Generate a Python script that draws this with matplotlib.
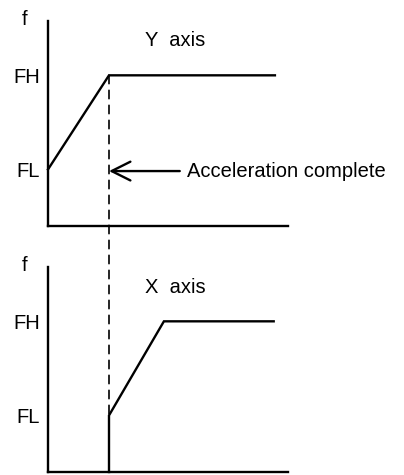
import matplotlib
matplotlib.use('Agg')
import matplotlib.pyplot as plt
from matplotlib.patches import ConnectionPatch

plt.rcParams['font.family'] = ['Liberation Sans', 'DejaVu Sans']

# frequency levels (fraction of axis height)
FL = 0.276
FH = 0.735
T_ACCEL = 1.0

# Y axis: starts at FL, ramps to FH, then constant
y_axis_t = [0.0, T_ACCEL, 3.72]
y_axis_f = [FL, FH, FH]

# X axis: starts after Y acceleration is complete
x_axis_t = [T_ACCEL, T_ACCEL, 1.90, 3.70]
x_axis_f = [0.0, FL, FH, FH]

level_ticks = [FL, FH]
level_labels = ['FL', 'FH']
panel_titles = ['Y  axis', 'X  axis']
note_text = 'Acceleration complete'
ARROW_Y = 0.268
ARROW_TAIL = 2.16
TEXT_X = 2.28
FS = 14.5

W, H = 404, 475
fig = plt.figure(figsize=(W / 100, H / 100), dpi=100)


def make_axes(top_px):
    left, right, bottom_px = 48, 288, top_px + 205
    ax = fig.add_axes([left / W, (H - bottom_px) / H, (right - left) / W, 205 / H])
    ax.set_xlim(0, 240 / 61)
    ax.set_ylim(0, 1)
    for side in ['top', 'right']:
        ax.spines[side].set_visible(False)
    for side in ['left', 'bottom']:
        ax.spines[side].set_linewidth(1.7)
        ax.spines[side].set_capstyle('projecting')
    ax.set_xticks([])
    ax.set_yticks(level_ticks)
    ax.set_yticklabels(level_labels)
    ax.tick_params(axis='y', length=0, pad=6, labelsize=FS)
    ax.text(-0.096, 1.005, 'f', transform=ax.transAxes, fontsize=FS,
            ha='center', va='center')
    ax.patch.set_visible(False)
    return ax


ax_y = make_axes(21)
ax_x = make_axes(267)

ax_y.plot(y_axis_t, y_axis_f, color='black', lw=1.7, clip_on=False,
          solid_joinstyle='miter')
ax_x.plot(x_axis_t, x_axis_f, color='black', lw=1.7, clip_on=False,
          solid_joinstyle='miter')

ax_y.text(1.59, 0.905, panel_titles[0], fontsize=FS, ha='left', va='center')
ax_x.text(1.59, 0.898, panel_titles[1], fontsize=FS, ha='left', va='center')

# dashed guide from end of Y acceleration down to X start
con = ConnectionPatch(xyA=(T_ACCEL, FH), coordsA=ax_y.transData,
                      xyB=(T_ACCEL, FL), coordsB=ax_x.transData,
                      color='black', lw=1.2, linestyle=(0, (5, 4)))
fig.add_artist(con)

ax_y.annotate('', xy=(T_ACCEL, ARROW_Y), xytext=(ARROW_TAIL, ARROW_Y),
              arrowprops=dict(arrowstyle='->,head_length=0.9,head_width=0.45',
                              lw=1.7, color='black', mutation_scale=15,
                              shrinkA=0, shrinkB=0),
              annotation_clip=False)
ax_y.text(TEXT_X, ARROW_Y, note_text, fontsize=FS, ha='left', va='center')

fig.savefig('out.png', dpi=100)
